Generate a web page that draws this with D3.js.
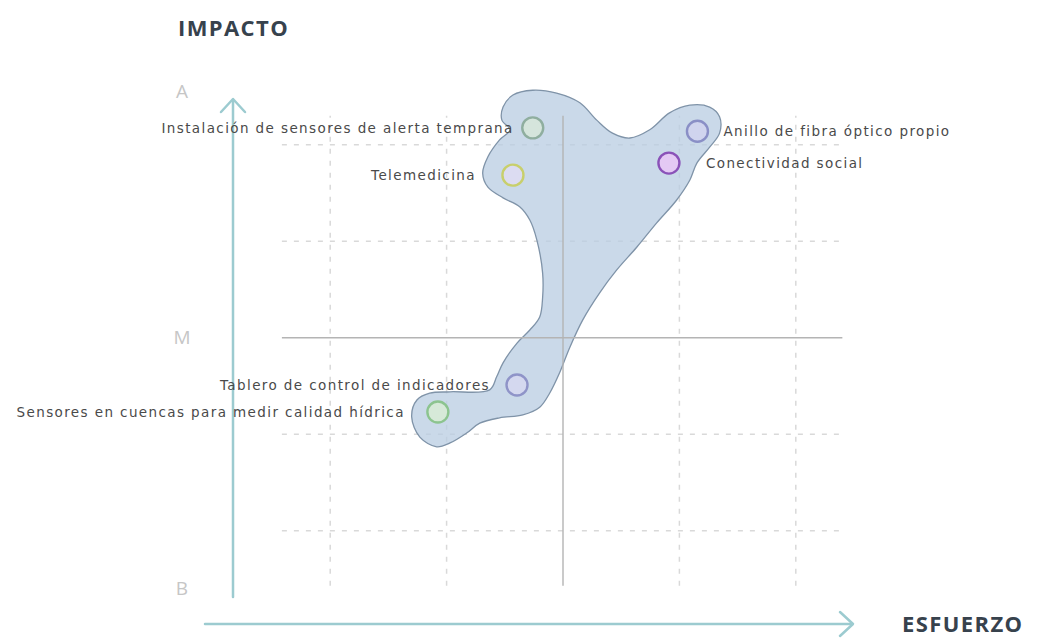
<!DOCTYPE html>
<html>
<head>
<meta charset="utf-8">
<script src="https://cdn.jsdelivr.net/npm/d3@7"></script>
<style>
  body { margin: 0; background: #fff; }
  svg { display: block; }
</style>
</head>
<body>
<svg id="chart" width="1039" height="639"></svg>
<script>
// initiatives: name, effort (x), impact (y)
const names = [
    "Instalación de sensores de alerta temprana",
    "Telemedicina",
    "Anillo de fibra óptico propio",
    "Conectividad social",
    "Tablero de control de indicadores",
    "Sensores en cuencas para medir calidad hídrica"
]
const effort = [4.48, 4.14, 7.31, 6.82, 4.21, 2.85]
const impact = [9.35, 8.37, 9.28, 8.62, 4.02, 3.46]
const strokeColors = ["#8fae9f", "#c8cf6c", "#8a8fc6", "#8a52b8", "#8f94c8", "#8cc48f"]
const fillColors = ["#d5e5dc", "#dcdcf2", "#d0d4ee", "#e4c9f4", "#d4d8ef", "#d6e9d8"]

// label placement (layout only): negative = left of the circle
const labelGap = [-19, -37, 26, 37, -27, -33]

// grid
const dashedX = [1, 3, 7, 9]
const dashedY = [1, 3, 7, 9]
const midX = 5
const midY = 5
const levelLabels = ["B", "M", "A"]
const levelValues = [-0.2, 5, 10.1]

// outline of the grouped area (effort, impact), clockwise
const blobX = [3.97, 4.14, 4.48, 4.89, 5.29, 5.58, 5.85, 6.15, 6.49, 6.83, 7.18, 7.52, 7.69, 7.69, 7.52, 7.30, 7.18, 6.95,
    6.61, 6.27, 5.92, 5.63, 5.34, 5.12, 4.94, 4.77, 4.60, 4.31, 3.91, 3.57, 3.35, 3.06, 2.83, 2.54, 2.40, 2.49, 2.71,
    3.06, 3.74, 3.86, 3.97, 4.21, 4.43, 4.60, 4.65, 4.65, 4.55, 4.43, 4.26, 3.97, 3.71, 3.62, 3.71, 3.91, 4.09, 3.95]
const blobY = [9.78, 10.03, 10.13, 10.07, 9.87, 9.51, 9.24, 9.14, 9.31, 9.66, 9.82, 9.78, 9.58, 9.24, 8.95, 8.62, 8.27, 7.85,
    7.38, 6.88, 6.40, 5.93, 5.37, 4.81, 4.27, 3.85, 3.56, 3.40, 3.34, 3.23, 3.03, 2.82, 2.74, 2.94, 3.36, 3.71, 3.85,
    3.88, 3.92, 4.19, 4.48, 4.89, 5.16, 5.43, 5.84, 6.34, 7.03, 7.44, 7.71, 7.90, 8.12, 8.41, 8.75, 9.10, 9.31, 9.51]

const svg = d3.select("#chart")

const x = d3.scaleLinear().domain([0, 10]).range([272, 854])
const y = d3.scaleLinear().domain([0, 10]).range([579, 96.5])

const gridXExtent = [0.17, 9.8]
const gridYExtent = [-0.14, 9.6]

//grid section
const grid = svg.append("g")

grid.selectAll("line.hdash")
    .data(dashedY)
    .join("line")
    .attr("class", "hdash")
    .attr("x1", x(gridXExtent[0]))
    .attr("x2", x(gridXExtent[1]))
    .attr("y1", d => y(d))
    .attr("y2", d => y(d))
    .attr("stroke", "#d9d9d9")
    .attr("stroke-width", 1.5)
    .attr("stroke-dasharray", "5,7")

grid.selectAll("line.vdash")
    .data(dashedX)
    .join("line")
    .attr("class", "vdash")
    .attr("x1", d => x(d))
    .attr("x2", d => x(d))
    .attr("y1", y(gridYExtent[0]))
    .attr("y2", y(gridYExtent[1]))
    .attr("stroke", "#d9d9d9")
    .attr("stroke-width", 1.5)
    .attr("stroke-dasharray", "5,7")

//grouped area
const blobLine = d3.line()
    .x(d => x(d[0]))
    .y(d => y(d[1]))
    .curve(d3.curveCatmullRomClosed.alpha(0.5))

svg.append("path")
    .datum(d3.zip(blobX, blobY))
    .attr("d", blobLine)
    .attr("fill", "#b8cce2")
    .attr("fill-opacity", 0.75)
    .attr("stroke", "#7f93a8")
    .attr("stroke-width", 1.3)

//middle lines on top
svg.append("line")
    .attr("x1", x(gridXExtent[0]))
    .attr("x2", x(gridXExtent[1]))
    .attr("y1", y(midY))
    .attr("y2", y(midY))
    .attr("stroke", "#b4b4b4")
    .attr("stroke-width", 1.4)

svg.append("line")
    .attr("x1", x(midX))
    .attr("x2", x(midX))
    .attr("y1", y(gridYExtent[0]))
    .attr("y2", y(gridYExtent[1]))
    .attr("stroke", "#b4b4b4")
    .attr("stroke-width", 1.4)

//axes arrows
const axisColor = "#9ccbd0"
const arrows = svg.append("g")
    .attr("fill", "none")
    .attr("stroke", axisColor)
    .attr("stroke-width", 2.5)
    .attr("stroke-linecap", "round")
    .attr("stroke-linejoin", "round")

arrows.append("line").attr("x1", 233).attr("x2", 233).attr("y1", 597).attr("y2", 100)
arrows.append("path").attr("d", "M221,112 L233,99 L245,112")
arrows.append("line").attr("x1", 205).attr("x2", 852).attr("y1", 624).attr("y2", 624)
arrows.append("path").attr("d", "M840,612 L853,624 L840,636")

//level labels
svg.selectAll("text.level")
    .data(levelLabels)
    .join("text")
    .attr("class", "level")
    .attr("x", 182)
    .attr("y", (d, i) => y(levelValues[i]))
    .attr("dy", "0.35em")
    .attr("text-anchor", "middle")
    .attr("font-family", "'Open Sans', sans-serif")
    .attr("font-size", 19)
    .attr("fill", "#c6c6c6")
    .text(d => d)

//axis titles
const titleStyle = sel => sel
    .attr("font-family", "'Open Sans', sans-serif")
    .attr("font-weight", 700)
    .attr("font-size", 22)
    .attr("letter-spacing", 1.4)
    .attr("fill", "#37424d")

svg.append("text")
    .attr("x", 178)
    .attr("y", 36)
    .call(titleStyle)
    .text("IMPACTO")

svg.append("text")
    .attr("x", 902)
    .attr("y", 632)
    .call(titleStyle)
    .text("ESFUERZO")

//points
const points = names.map((n, i) => ({name: n, x: effort[i], y: impact[i], gap: labelGap[i], stroke: strokeColors[i], fill: fillColors[i]}))

const nodes = svg.selectAll("g.node")
    .data(points)
    .join("g")
    .attr("class", "node")
    .attr("transform", d => `translate(${x(d.x)},${y(d.y)})`)

nodes.append("circle")
    .attr("r", 10.5)
    .attr("fill", d => d.fill)
    .attr("stroke", d => d.stroke)
    .attr("stroke-width", 2.4)

nodes.append("text")
    .attr("x", d => d.gap)
    .attr("dy", "0.35em")
    .attr("text-anchor", d => d.gap < 0 ? "end" : "start")
    .attr("font-family", "'DejaVu Sans', sans-serif")
    .attr("font-size", 13.5)
    .attr("letter-spacing", 1.4)
    .attr("fill", "#4a4a4a")
    .text(d => d.name)
</script>
</body>
</html>
